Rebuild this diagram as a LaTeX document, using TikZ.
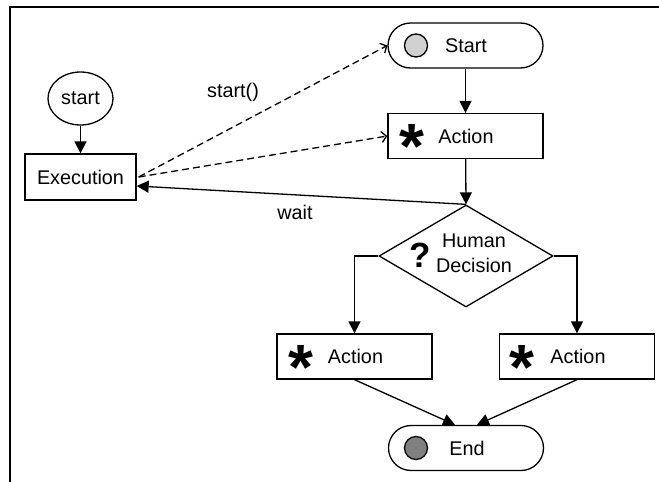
\documentclass[tikz,border=0pt]{standalone}
\usepackage{fontspec}
\setmainfont{Liberation Sans}
\usetikzlibrary{arrows.meta,shapes.geometric,shapes.misc}
\begin{document}
\begin{tikzpicture}[x=1pt,y=-1pt,
  every node/.style={font=\fontsize{19.8}{25}\selectfont},
  line/.style={line width=1.3pt},
  flow/.style={line, -{Triangle[length=12pt,width=12pt]}},
  call/.style={line, dashed, dash pattern=on 7pt off 4pt,
    -{Straight Barb[length=5pt,width=11pt,line width=1.3pt]}},
  box/.style={draw, line width=1.3pt, rectangle, minimum width=155pt,
    minimum height=45pt, inner sep=0pt},
  term/.style={draw, line width=1.3pt, rounded rectangle, minimum width=155pt,
    minimum height=45pt, inner sep=0pt},
  dot/.style={draw, line width=1.3pt, circle, minimum size=23pt, inner sep=0pt},
  star/.style={font=\fontsize{64}{64}\selectfont\bfseries, inner sep=0pt, anchor=base},
  plain/.style={inner sep=0pt}
]
\useasboundingbox (0,0) rectangle (659,482);

% frame (top and left edges only)
\draw[line width=1.3pt] (659,7) -- (10,7) -- (10,482);

% left side: start -> Execution
\node[draw, line width=1.3pt, ellipse, minimum width=65pt, minimum height=53pt,
      inner sep=0pt] (st) at (80.5,98.5) {start};
\node[draw, line width=1.3pt, rectangle, minimum width=111pt, minimum height=46pt,
      inner sep=0pt] (exec) at (80.5,177) {Execution};

% main flow
\node[term] (start) at (465.5,45.5) {};
\node[dot, fill=black!18] (sdot) at (416,45.5) {};
\node[plain] (stxt) at (466,45.5) {Start};

\node[box] (a1) at (465.5,136) {};
\node[star] (a1s) at (412,168.5) {*};
\node[plain] (a1t) at (466,136) {Action};

\node[draw, line width=1.3pt, diamond, aspect=1.706, minimum width=174pt,
      minimum height=102pt, inner sep=0pt] (dec) at (466,256) {};
\node[font=\fontsize{35}{35}\selectfont\bfseries, inner sep=0pt, anchor=base]
      (q) at (420,267) {?};
\node[plain, align=center, font=\fontsize{19.8}{25}\selectfont] (dt) at (474,253) {Human\\Decision};

\node[box] (la) at (354.5,356.5) {};
\node[star] (las) at (301,389) {*};
\node[plain] (lat) at (355.5,356.5) {Action};

\node[box] (ra) at (577,356.5) {};
\node[star] (ras) at (522,389) {*};
\node[plain] (rat) at (578,356.5) {Action};

\node[term] (end) at (466,448) {};
\node[dot, fill=black!50] (edot) at (416,448) {};
\node[plain] (etxt) at (467,448) {End};

% labels
\node[plain] (lstart) at (233,92) {start()};
\node[plain] (lwait) at (295,212) {wait};

% connectors
\draw[flow] (st) -- (exec);
\draw[flow] (start) -- (a1);
\draw[flow] (a1) -- (dec.north);
\draw[flow] (dec.west) -| (la.north);
\draw[flow] (dec.east) -| (ra.north);
\draw[flow] (la.south) -- ([xshift=-11pt]end.north);
\draw[flow] (ra.south) -- ([xshift=11pt]end.north);
\draw[flow] (dec.north) -- ([yshift=-9pt]exec.east);
\draw[call] ([xshift=2pt]exec.east) -- (start.west);
\draw[call] ([xshift=2pt]exec.east) -- (a1.west);
\end{tikzpicture}
\end{document}
